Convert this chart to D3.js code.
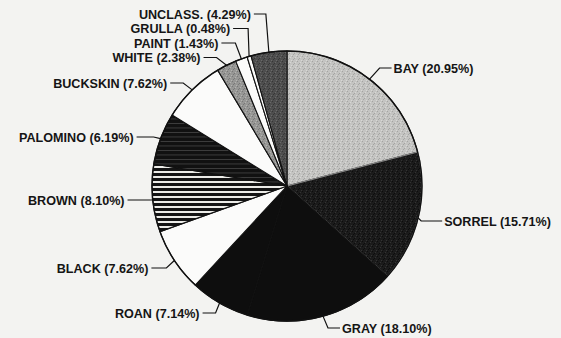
<!DOCTYPE html>
<html>
<head>
<meta charset="utf-8">
<script src="https://cdn.jsdelivr.net/npm/d3@7"></script>
<style>
  html, body { margin: 0; padding: 0; background: #f3f3f1; }
  svg { display: block; }
</style>
</head>
<body>
<svg width="561" height="338"></svg>
<script>
// horse colour shares, clockwise from 12 o'clock
const labels = ["BAY", "SORREL", "GRAY", "ROAN", "BLACK", "BROWN", "PALOMINO",
  "BUCKSKIN", "WHITE", "PAINT", "GRULLA", "UNCLASS."];
const percents = [20.95, 15.71, 18.10, 7.14, 7.62, 8.10, 6.19, 7.62, 2.38, 1.43, 0.48, 4.29];

// slice fills (pattern ids or plain colours)
const fills = ["url(#bay)", "url(#sorrel)", "#0e0e0e", "#0e0e0e", "#fbfbfa", "url(#brown)",
  "url(#palomino)", "#fbfbfa", "url(#white)", "#fbfbfa", "#fbfbfa", "url(#unclass)"];
const strokes = ["#111", "#8a8a8a", "#111", "#111", "#111", "#111",
  "#111", "#111", "#111", "#111", "#111", "#111"];

// label layout: y of the label line, elbow shift from anchor, hook length
const labelY = [68, 221, 328, 313, 268, 200, 137, 83, 57.5, 43, 28.5, 14];
const elbowDx = [10, 3, 5, -4, -8, 0, -7, -9, -10, -6, -1, -3];
const hookLen = [12, 21, 12, 13, 15, 25, 17, 13, 13, 14, 15, 12];

const cx = 287, cy = 186, radius = 135;

const svg = d3.select("svg");
const defs = svg.append("defs");

// stipple patterns, a rough stand-in for the halftone screens
function stipple(id, base, dark, light) {
  const p = defs.append("pattern")
    .attr("id", id)
    .attr("patternUnits", "userSpaceOnUse")
    .attr("width", 5).attr("height", 5);
  p.append("rect").attr("width", 5).attr("height", 5).attr("fill", base);
  [[0, 0, dark], [3, 1, light], [1, 3, dark], [4, 4, light], [2, 2, dark]].forEach(([x, y, c]) =>
    p.append("rect").attr("x", x).attr("y", y).attr("width", 1).attr("height", 1).attr("fill", c)
  );
}
stipple("bay", "#c4c4c2", "#a4a4a2", "#d8d8d6");
stipple("sorrel", "#1b1b1b", "#0c0c0c", "#333");
stipple("white", "#979795", "#777", "#b4b4b2");
stipple("unclass", "#4e4e4e", "#363636", "#6a6a6a");

function stripes(id, base, line, period, lineH) {
  const p = defs.append("pattern")
    .attr("id", id)
    .attr("patternUnits", "userSpaceOnUse")
    .attr("width", 8).attr("height", period);
  p.append("rect").attr("width", 8).attr("height", period).attr("fill", base);
  p.append("rect").attr("y", 0).attr("width", 8).attr("height", lineH).attr("fill", line);
}
stripes("brown", "#141414", "#ecece8", 5, 2);
stripes("palomino", "#111", "#444", 4.5, 0.8);

const pie = d3.pie().sort(null).value((d) => d);
const arcs = pie(percents);

const arc = d3.arc().innerRadius(0).outerRadius(radius);
const rim = d3.arc().innerRadius(radius).outerRadius(radius);

const g = svg.append("g").attr("transform", `translate(${cx},${cy})`);

g.selectAll("path.slice")
  .data(arcs)
  .enter()
  .append("path")
  .attr("class", "slice")
  .attr("d", arc)
  .attr("fill", (d, i) => fills[i])
  .attr("stroke", (d, i) => strokes[i])
  .attr("stroke-width", 1.1)
  .attr("stroke-linejoin", "round");

// outer outline
g.append("circle")
  .attr("r", radius)
  .attr("fill", "none")
  .attr("stroke", "#111")
  .attr("stroke-width", 1.4);

// leader lines and labels
const labelG = svg.append("g");
arcs.forEach((d, i) => {
  const [ax, ay] = rim.centroid(d).map((v, k) => v + (k ? cy : cx));
  const right = ax > cx;
  const ex = ax + elbowDx[i];
  const ey = labelY[i];
  const hx = ex + (right ? hookLen[i] : -hookLen[i]);

  labelG.append("path")
    .attr("d", d3.line()([[ax, ay], [ex, ey], [hx, ey]]))
    .attr("fill", "none")
    .attr("stroke", "#111")
    .attr("stroke-width", 1.2);

  labelG.append("text")
    .attr("x", hx + (right ? 2 : -3))
    .attr("y", ey)
    .attr("dy", "0.36em")
    .attr("text-anchor", right ? "start" : "end")
    .attr("font-family", "'Liberation Sans', Arial, sans-serif")
    .attr("font-weight", "bold")
    .attr("font-size", 12.6)
    .attr("fill", "#151515")
    .text(`${labels[i]} (${percents[i].toFixed(2)}%)`);
});
</script>
</body>
</html>
